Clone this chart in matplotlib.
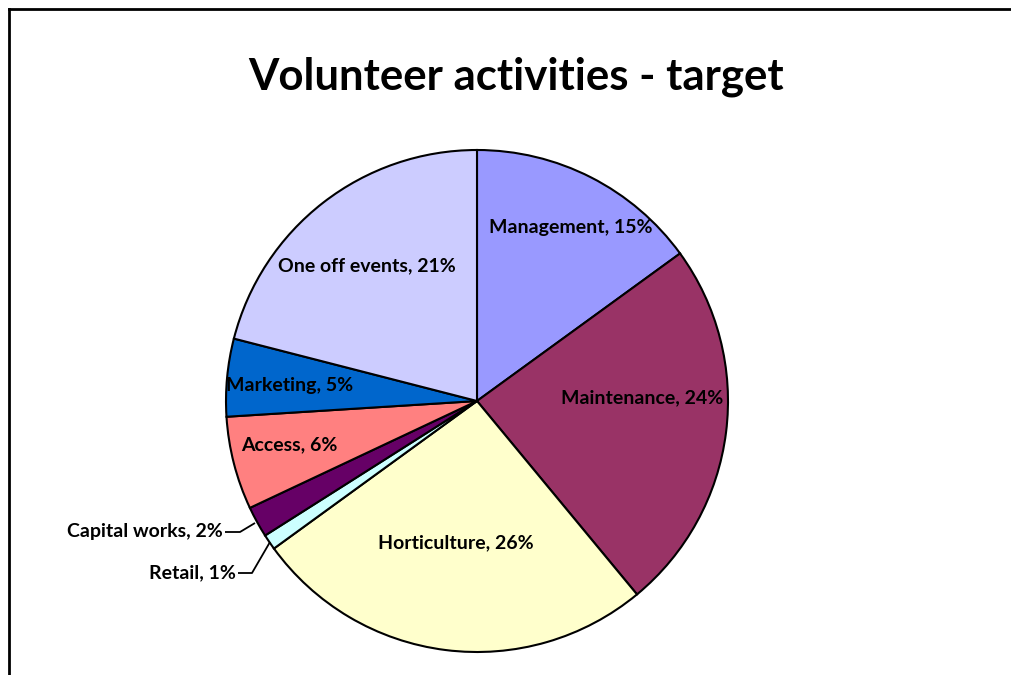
import numpy as np
import matplotlib
matplotlib.use('Agg')
import matplotlib.pyplot as plt

W, H = 1011, 675

labels = ['Management', 'Maintenance', 'Horticulture', 'Retail',
          'Capital works', 'Access', 'Marketing', 'One off events']
shares = [15, 24, 26, 1, 2, 6, 5, 21]
colors = ['#9999FF', '#993366', '#FFFFCC', '#CCFFFF',
          '#660066', '#FF8080', '#0066CC', '#CCCCFF']

# label anchor points (pixels, origin top-left)
inside_pos = {
    'Management': (571, 227),
    'Maintenance': (642, 398),
    'Horticulture': (456, 543),
    'Access': (289, 445),
    'Marketing': (290, 385),
    'One off events': (367, 266),
}
# outside labels: text end, leader elbow, leader tip
outside_pos = {
    'Capital works': ((223, 532), (240, 532), (255, 523)),
    'Retail': ((236, 573), (252, 573), (270, 542)),
}

FONT = 'Lato'
LABEL_SIZE = 14
cx, cy, R = 477, 401, 251

fig = plt.figure(figsize=(W / 100, H / 100), dpi=100)
ax = fig.add_axes([0, 0, 1, 1])

def fy(y):
    return H - y

ax.pie(shares, colors=colors, startangle=90, counterclock=False,
       center=(cx, fy(cy)), radius=R,
       wedgeprops=dict(edgecolor='black', linewidth=1.5))
ax.set_xlim(0, W)
ax.set_ylim(0, H)
ax.set_aspect('equal')
ax.axis('off')

for name, val in zip(labels, shares):
    txt = f'{name}, {val}%'
    if name in inside_pos:
        x, y = inside_pos[name]
        ax.text(x, fy(y), txt, ha='center', va='center', fontsize=LABEL_SIZE,
                fontweight='bold', family=FONT)
    else:
        (tx, ty), (ex, ey), (px, py) = outside_pos[name]
        ax.text(tx, fy(ty), txt, ha='right', va='center', fontsize=LABEL_SIZE,
                fontweight='bold', family=FONT)
        ax.plot([tx + 2, ex, px], [fy(ty), fy(ey), fy(py)],
                color='black', linewidth=1.3, solid_capstyle='butt')

ax.text(516, fy(77), 'Volunteer activities - target', ha='center',
        va='center', fontsize=31.5, fontweight='bold', family=FONT)

# chart frame: top and left edges
ax.plot([9, 9], [0, fy(9)], color='black', linewidth=2, solid_capstyle='projecting')
ax.plot([9, W], [fy(9), fy(9)], color='black', linewidth=2, solid_capstyle='projecting')

fig.savefig('out.png', dpi=100)
